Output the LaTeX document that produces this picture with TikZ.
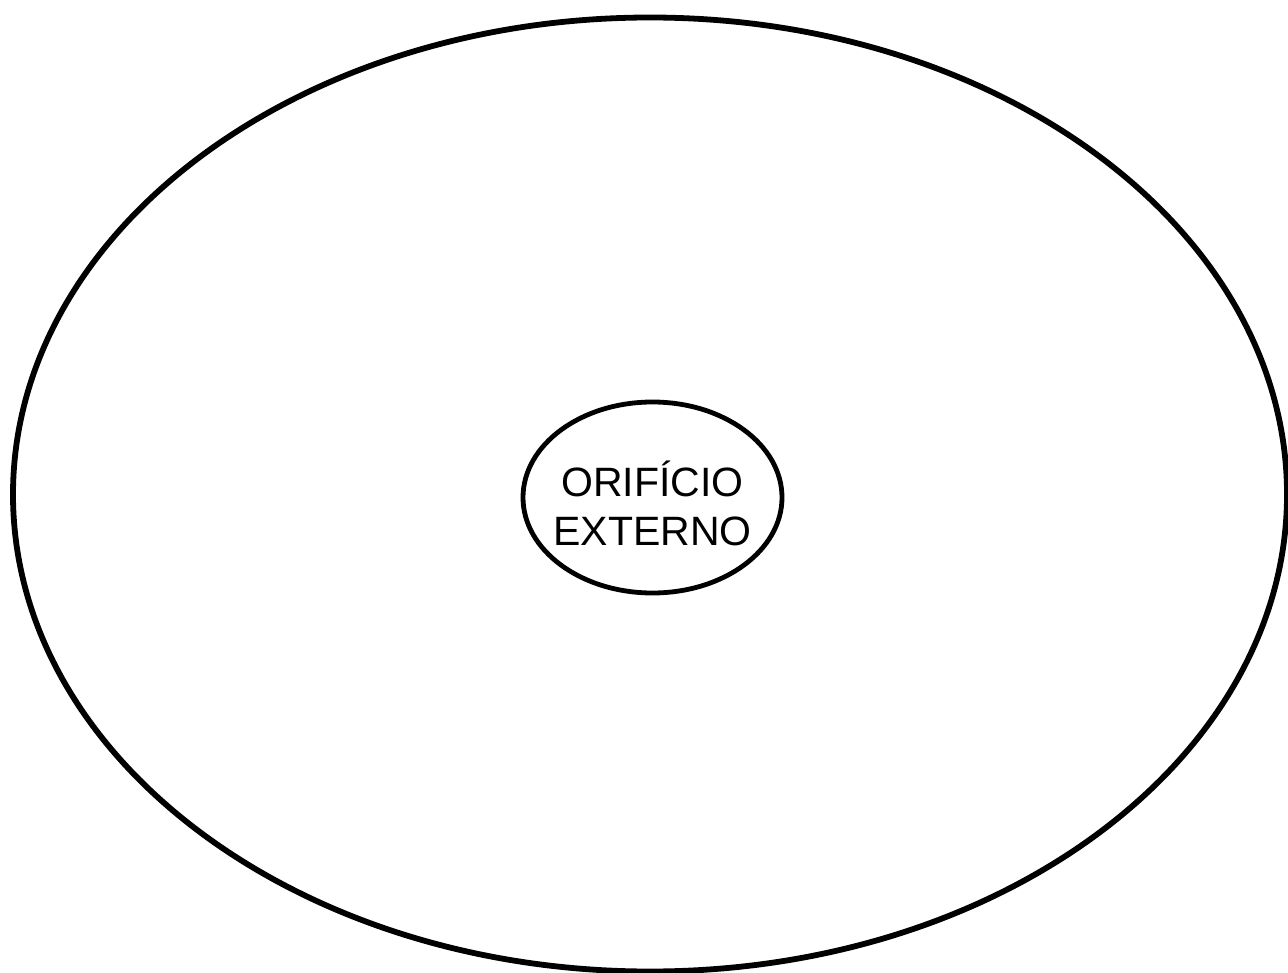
\documentclass[tikz,border=0pt]{standalone}
\usepackage{fontspec}
\setmainfont{Liberation Sans}
\usetikzlibrary{shapes.geometric}
\begin{document}
\begin{tikzpicture}[x=1pt,y=-1pt,
  outerring/.style={draw=black,line width=5.8pt},
  innerring/.style={draw=black,line width=4.8pt},
  label/.style={font=\fontsize{41}{49}\selectfont,align=center,inner sep=0pt}]
\useasboundingbox (0,0) rectangle (1288,973);
\draw[outerring] (650,494.5) ellipse [x radius=637, y radius=477];
\node[ellipse,innerring,minimum width=259pt,minimum height=191pt,inner sep=0pt] (hole) at (652.5,497.5) {};
\node[label] (txt) at ([yshift=-6pt]hole.center) {ORIFÍCIO\\EXTERNO};
\end{tikzpicture}
\end{document}
